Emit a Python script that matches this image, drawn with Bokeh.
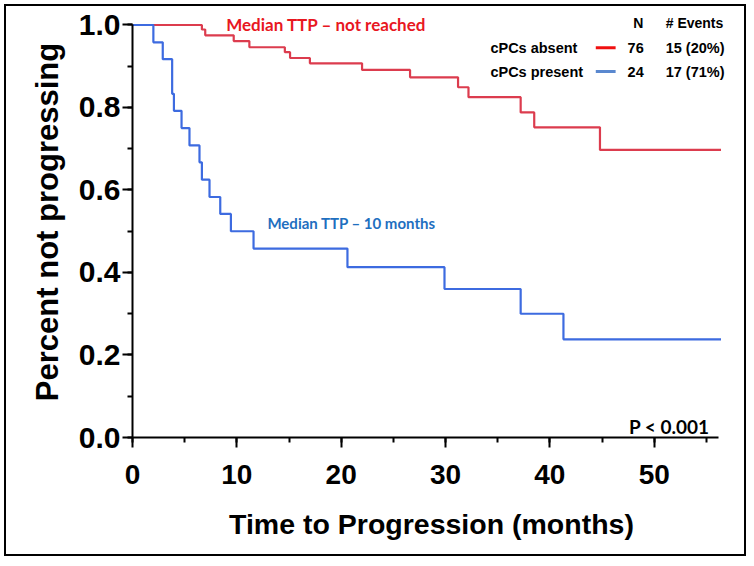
from bokeh.plotting import figure
from bokeh.models import Range1d, SingleIntervalTicker, NumeralTickFormatter
from bokeh.core.properties import value
from bokeh.embed import file_html
from bokeh.resources import INLINE

# ---- data ----
absent_times = [0, 6.65, 6.97, 9.7, 11.2, 14.6, 15.1, 17.0, 22.0, 26.6, 31.2, 32.2, 37.2, 38.5, 44.8, 56.4]
absent_surv = [1.0, 0.989, 0.975, 0.961, 0.946, 0.934, 0.920, 0.907, 0.891, 0.873, 0.849, 0.825, 0.788, 0.752, 0.697, 0.697]

present_times = [0, 2.0, 2.9, 3.8, 3.97, 4.7, 5.46, 6.42, 6.65, 7.38, 8.41, 9.43, 11.6, 20.6, 29.9, 37.2, 41.3, 56.4]
present_surv = [1.0, 0.958, 0.917, 0.833, 0.792, 0.750, 0.708, 0.667, 0.625, 0.583, 0.542, 0.500, 0.458, 0.413, 0.360, 0.300, 0.238, 0.238]

groups = ["cPCs absent", "cPCs present"]
group_n = ["76", "24"]
group_events = ["15 (20%)", "17 (71%)"]
legend_header = ["N", "# Events"]

RED = "#DC3C4E"
BLUE = "#3D6BE0"

p = figure(width=742, height=552,
           x_range=Range1d(0, 57.31), y_range=Range1d(0, 1.0448),
           output_backend="svg", toolbar_location=None,
           min_border_left=126, min_border_right=18, min_border_top=0, min_border_bottom=121)
p.styles = {"border": "2px solid black", "margin": "4px 0 0 4px"}
p.outline_line_color = None
p.xgrid.visible = False
p.ygrid.visible = False
p.background_fill_color = "white"
p.border_fill_color = "white"

p.step(absent_times, absent_surv, mode="after", line_color=RED, line_width=2.2)
p.step(present_times, present_surv, mode="after", line_color=BLUE, line_width=2.2)

# axes
xa = p.xaxis[0]
xa.ticker = SingleIntervalTicker(interval=10, num_minor_ticks=2)
xa.bounds = (0, 56.2)
xa.formatter = NumeralTickFormatter(format="0")
xa.axis_line_width = 2
xa.major_tick_line_width = 2
xa.minor_tick_line_width = 2
xa.major_tick_out = 10
xa.major_tick_in = 0
xa.minor_tick_out = 5
xa.minor_tick_in = 0
xa.major_label_text_font = "Liberation Sans"
xa.major_label_text_font_style = "bold"
xa.major_label_text_font_size = "28px"
xa.major_label_text_color = "black"
xa.major_label_standoff = 17
xa.axis_label = "Time to Progression (months)"
xa.axis_label_text_font = "Liberation Sans"
xa.axis_label_text_font_style = "bold"
xa.axis_label_text_font_size = "28.5px"
xa.axis_label_text_color = "black"
xa.axis_label_standoff = 21

ya = p.yaxis[0]
ya.ticker = SingleIntervalTicker(interval=0.2, num_minor_ticks=2)
ya.bounds = (0, 1)
ya.formatter = NumeralTickFormatter(format="0.0")
ya.axis_line_width = 2
ya.major_tick_line_width = 2
ya.minor_tick_line_width = 2
ya.major_tick_out = 10
ya.major_tick_in = 0
ya.minor_tick_out = 5
ya.minor_tick_in = 0
ya.major_label_text_font = "Liberation Sans"
ya.major_label_text_font_style = "bold"
ya.major_label_text_font_size = "30px"
ya.major_label_text_color = "black"
ya.major_label_standoff = 2
ya.axis_label = "Percent not progressing"
ya.axis_label_text_font = "Liberation Sans"
ya.axis_label_text_font_style = "bold"
ya.axis_label_text_font_size = "31px"
ya.axis_label_text_color = "black"
ya.axis_label_standoff = 11

# annotations
p.text(x=[8.98], y=[1.0], text=["Median TTP \u2013 not reached"], text_font=value("Lato"),
       text_font_style="bold", text_font_size="17px", text_color="#E8171F",
       text_baseline="middle", text_align="left")
p.text(x=[12.93], y=[0.499], text=["Median TTP \u2013 10 months"], text_font=value("Lato"),
       text_font_style="bold", text_font_size="15px", text_color="#1F6FBF",
       text_baseline="bottom", text_align="left")
p.text(x=[55.3], y=[0.0], text=["P < 0.001"], text_font=value("Lato"),
       text_font_style="bold", text_font_size="19px", text_color="black",
       text_baseline="bottom", text_align="right")

# legend table (in data coordinates)
hdr_y = 1.0036
row_y = [0.945, 0.887]
p.text(x=[48.0, 51.1], y=[hdr_y, hdr_y], text=legend_header, text_font=value("Liberation Sans"),
       text_font_style="bold", text_font_size="14px", text_color="black",
       text_baseline="middle", text_align="left")
p.text(x=[34.3, 34.3], y=row_y, text=groups, text_font=value("Liberation Sans"),
       text_font_style="bold", text_font_size="14.5px", text_color="black",
       text_baseline="middle", text_align="left")
p.segment(x0=[44.4, 44.4], y0=row_y, x1=[46.3, 46.3], y1=row_y,
          line_color=["#F01010", "#5A88CF"], line_width=3)
p.text(x=[47.45, 47.45], y=row_y, text=group_n, text_font=value("Liberation Sans"),
       text_font_style="bold", text_font_size="14.5px", text_color="black",
       text_baseline="middle", text_align="left")
p.text(x=[51.1, 51.1], y=row_y, text=group_events, text_font=value("Liberation Sans"),
       text_font_style="bold", text_font_size="14.5px", text_color="black",
       text_baseline="middle", text_align="left")

open("out.html", "w").write(file_html(p, INLINE))
